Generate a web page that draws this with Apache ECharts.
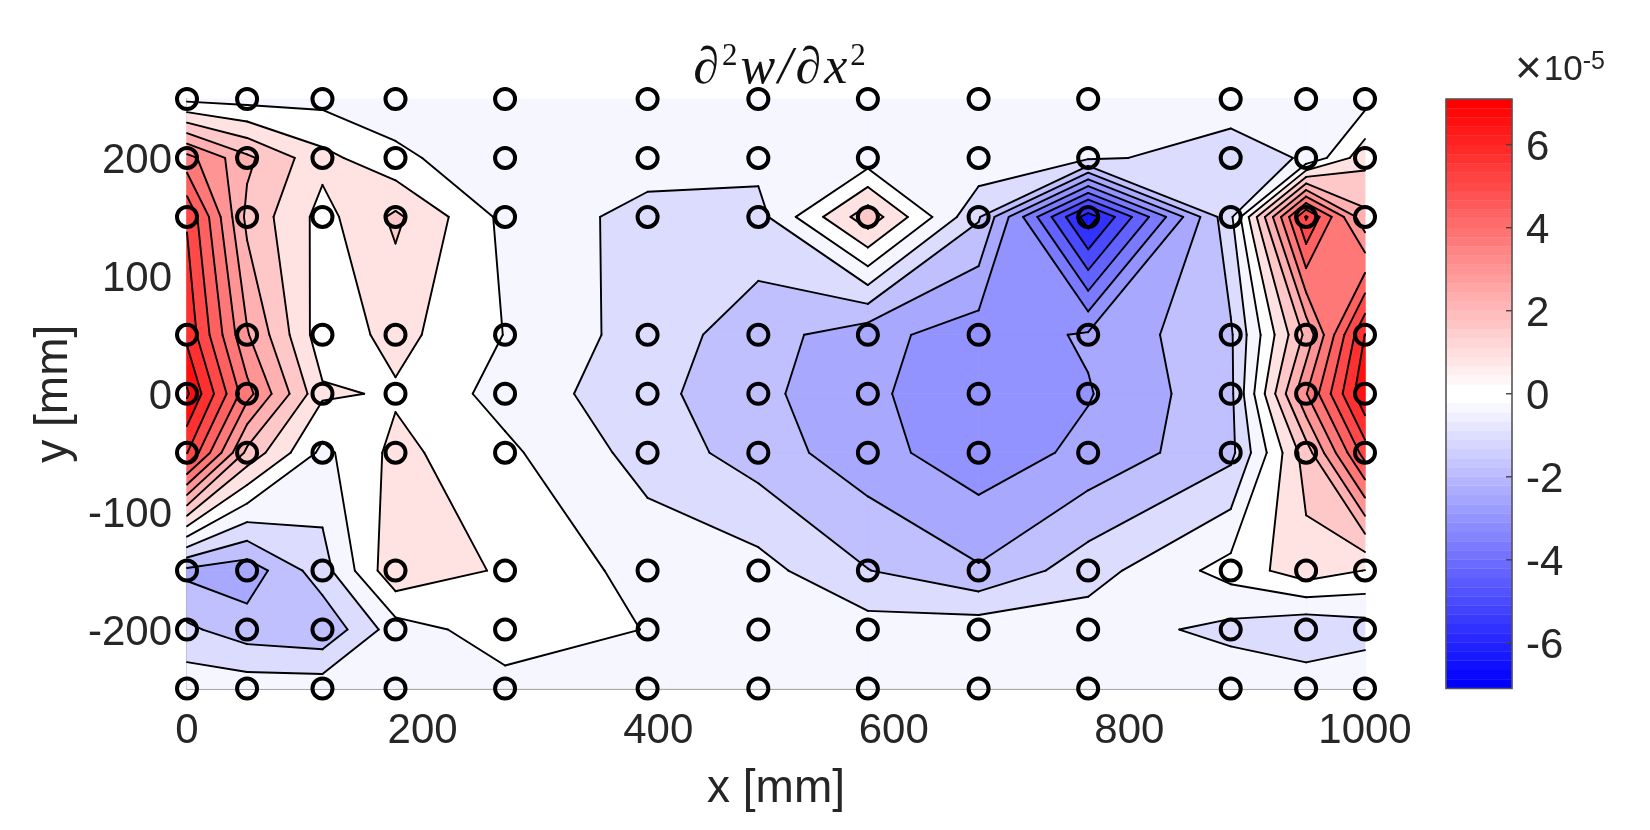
<!DOCTYPE html>
<html>
<head>
<meta charset="utf-8">
<title>d2w/dx2</title>
<script src="https://cdn.jsdelivr.net/npm/echarts@6/dist/echarts.min.js"></script>
<style>
  html, body { margin: 0; padding: 0; background: #fff; }
  #chart { width: 1650px; height: 830px; }
</style>
</head>
<body>
<div id="chart"></div>
<script>
// measurement points
const xs = [0, 51, 115, 177, 270, 391, 485, 578, 672, 765, 886, 950, 1000];
const ys = [250, 200, 150, 50, 0, -50, -150, -200, -250];

// d2w/dx2 in units of 1e-5, one row per y
const rowY250 = [-0.49, -0.57, -0.52, -0.78, -0.5, -0.4, -0.4, -0.4, -0.4, -0.5, -0.69, -0.5, -0.59];
const rowY200 = [3.5, 1.97, 0.61, -0.12, -0.9, -0.67, -0.78, -0.72, -0.44, -0.89, -1.35, -0.95, 0.87];
const rowY150 = [5.29, 1.63, 0.15, 1.25, -0.5, -1.28, -1.28, 1.56, -1.65, -7.1, -1.18, 5.45, 2.0];
const rowY50 = [5.9, 2.6, -0.04, 0.63, -0.33, -1.35, -2.11, -2.9, -3.54, -3.06, -1.83, 2.0, 6.1];
const rowY0 = [6.9, 3.5, 0.52, 0.31, -0.57, -1.5, -2.26, -2.99, -3.72, -3.2, -1.9, 3.2, 6.7];
const rowYm50 = [5.4, 1.63, -0.5, 0.6, -0.16, -1.3, -2.07, -2.87, -3.59, -2.96, -1.93, 1.46, 5.0];
const rowYm150 = [-2.62, -2.87, -1.32, 0.96, 0.29, -0.57, -0.76, -1.71, -2.36, -1.33, -0.03, 0.8, 0.38];
const rowYm200 = [-1.6, -2.1, -2.3, -0.64, 0.05, -0.33, -0.5, -0.7, -0.58, -0.63, -1.24, -1.65, -1.37];
const rowYm250 = [-0.55, -0.6, -0.6, -0.45, -0.54, -0.35, -0.35, -0.4, -0.4, -0.4, -0.47, -0.52, -0.37];
const zRows = [rowY250, rowY200, rowY150, rowY50, rowY0, rowYm50, rowYm150, rowYm200, rowYm250];

// contour levels
const levels = [-6.7, -5.99, -5.28, -4.57, -3.86, -3.15, -2.44, -1.73, -1.02, -0.31,
  0.4, 1.11, 1.82, 2.53, 3.24, 3.95, 4.66, 5.37, 6.08, 6.79];
const bandColors = ['#1a1aff', '#3232ff', '#4a4aff', '#6262ff', '#7a7aff', '#9393ff', '#a8a8ff', '#c0c0ff', '#dcdcff', '#f5f6ff',
  '#ffffff', '#ffe3e3', '#ffc8c8', '#ffb0b0', '#ff9494', '#ff7878', '#ff6060', '#ff4848', '#ff3030', '#ff1010', '#ff0000'];

const yTicks = [-200, -100, 0, 100, 200];
const barTicks = [-6, -4, -2, 0, 2, 4, 6];
const barLimit = 7.1;
const barSteps = 64;

// one entry per grid cell, and one per cell and level so the levels paint in order
const cells = [];
const fillCells = [];
for (let j = 0; j < ys.length - 1; j++) {
  for (let i = 0; i < xs.length - 1; i++) cells.push([i, j]);
}
for (let n = -1; n < levels.length; n++) {
  cells.forEach(c => fillCells.push([c[0], c[1], n]));
}
const circles = [];
ys.forEach(y => xs.forEach(x => circles.push([x, y])));
const barCells = [];
for (let k = 0; k < barSteps; k++) barCells.push([k]);

function barColor(k) {
  const t = k < barSteps / 2 ? k / (barSteps / 2 - 1) : (barSteps - 1 - k) / (barSteps / 2 - 1);
  const c = Math.round(255 * t);
  return k < barSteps / 2 ? `rgb(${c},${c},255)` : `rgb(255,${c},${c})`;
}

function cellCorners(i, j) {
  return [
    { x: xs[i], y: ys[j], z: zRows[j][i] },
    { x: xs[i + 1], y: ys[j], z: zRows[j][i + 1] },
    { x: xs[i + 1], y: ys[j + 1], z: zRows[j + 1][i + 1] },
    { x: xs[i], y: ys[j + 1], z: zRows[j + 1][i] }
  ];
}

function crossing(a, b, level) {
  const t = (level - a.z) / (b.z - a.z);
  return { x: a.x + t * (b.x - a.x), y: a.y + t * (b.y - a.y), z: level };
}

// parts of a cell at or above a level; a saddle below the cell mean splits in two
function regionsAbove(c, level) {
  const above = c.map(p => p.z >= level);
  const mid = (c[0].z + c[1].z + c[2].z + c[3].z) / 4;
  if (above[0] === above[2] && above[1] === above[3] && above[0] !== above[1] && mid < level) {
    return [0, 1, 2, 3].filter(n => above[n]).map(n => {
      const prev = c[(n + 3) % 4], next = c[(n + 1) % 4];
      return [c[n], crossing(c[n], next, level), crossing(c[n], prev, level)];
    });
  }
  const out = [];
  c.forEach((p, n) => {
    const q = c[(n + 1) % 4];
    if (p.z >= level) out.push(p);
    if ((p.z >= level) !== (q.z >= level)) out.push(crossing(p, q, level));
  });
  return out.length ? [out] : [];
}

// each level paints over the one below it
function renderFill(params, api) {
  const corners = cellCorners(api.value(0), api.value(1));
  const n = api.value(2);
  // nothing of this band shows if the next level covers the whole cell
  if (n + 1 < levels.length && corners.every(p => p.z >= levels[n + 1])) return null;
  const color = bandColors[n + 1];
  const polys = n < 0 ? [corners] : regionsAbove(corners, levels[n]);
  return {
    type: 'group',
    children: polys.map(poly => ({
      type: 'polygon',
      z2: n + 2,
      shape: { points: poly.map(p => api.coord([p.x, p.y])) },
      style: { fill: color, stroke: color, lineWidth: 0.7 }
    }))
  };
}

function renderLines(params, api) {
  const c = cellCorners(api.value(0), api.value(1));
  const children = [];
  levels.forEach(level => {
    const pts = [];
    for (let e = 0; e < 4; e++) {
      const a = c[e], b = c[(e + 1) % 4];
      if ((a.z < level) !== (b.z < level)) pts.push(crossing(a, b, level));
    }
    const pairs = [];
    if (pts.length === 2) pairs.push([pts[0], pts[1]]);
    if (pts.length === 4) {
      const mid = (c[0].z + c[1].z + c[2].z + c[3].z) / 4;
      if ((mid < level) === (c[0].z < level)) pairs.push([pts[0], pts[1]], [pts[2], pts[3]]);
      else pairs.push([pts[3], pts[0]], [pts[1], pts[2]]);
    }
    pairs.forEach(pair => {
      const p1 = api.coord([pair[0].x, pair[0].y]);
      const p2 = api.coord([pair[1].x, pair[1].y]);
      children.push({
        type: 'line',
        shape: { x1: p1[0], y1: p1[1], x2: p2[0], y2: p2[1] },
        style: { stroke: '#000', lineWidth: 1.9, lineCap: 'round' }
      });
    });
  });
  return { type: 'group', children };
}

function renderBarCell(params, api) {
  const k = api.value(0);
  const step = 2 * barLimit / barSteps;
  const p1 = api.coord([0, -barLimit + k * step]);
  const p2 = api.coord([1, -barLimit + (k + 1) * step]);
  return {
    type: 'rect',
    shape: { x: p1[0], y: p2[1], width: p2[0] - p1[0], height: p1[1] - p2[1] },
    style: { fill: barColor(k), stroke: barColor(k), lineWidth: 0.4 }
  };
}

function renderBarFrame(params) {
  const r = params.coordSys;
  return {
    type: 'rect',
    shape: { x: r.x, y: r.y, width: r.width, height: r.height },
    style: { fill: 'none', stroke: '#555', lineWidth: 1.6 }
  };
}

const font = 'Liberation Sans';
const serif = 'Liberation Serif';
const ink = '#262626';
const plain = v => String(v);
// tick labels on the y axes sit a little below their tick
const lowered = v => `{t|${v}}`;
const loweredRich = { t: { fontFamily: font, fontSize: 42, color: ink, padding: [7, 0, 0, 0] } };

const chart = echarts.init(document.getElementById('chart'));
chart.setOption({
  animation: false,
  backgroundColor: '#fff',
  title: [
    {
      text: '{m|∂}{s|2}{m|w}{m|/}{m|∂}{m|x}{s|2}',
      left: 776,
      top: 36,
      textAlign: 'center',
      textStyle: {
        fontWeight: 'normal',
        rich: {
          m: { fontFamily: serif, fontStyle: 'italic', fontWeight: 'normal', fontSize: 52, lineHeight: 56, color: '#111', padding: [0, 3, 0, 0] },
          s: { fontFamily: serif, fontWeight: 'normal', fontSize: 31, lineHeight: 56, color: '#111', verticalAlign: 'top', padding: [0, 3, 0, 0] }
        }
      }
    },
    {
      text: '{x|×}{b|10}{e|-5}',
      left: 1510,
      top: 45,
      textAlign: 'left',
      textStyle: {
        fontWeight: 'normal',
        rich: {
          x: { fontFamily: font, fontWeight: 'normal', fontSize: 46, lineHeight: 40, color: ink, padding: [0, 2, 0, 0] },
          b: { fontFamily: font, fontWeight: 'normal', fontSize: 35, lineHeight: 40, color: ink },
          e: { fontFamily: font, fontWeight: 'normal', fontSize: 25, lineHeight: 40, color: ink, verticalAlign: 'top' }
        }
      }
    }
  ],
  grid: [
    { left: 187, top: 99, width: 1178, height: 589.5 },
    { left: 1446, top: 99, width: 66, height: 589.5 }
  ],
  xAxis: [
    {
      gridIndex: 0, type: 'value', min: 0, max: 1000, interval: 200,
      name: 'x [mm]', nameLocation: 'middle', nameGap: 78,
      nameTextStyle: { fontFamily: font, fontSize: 46, color: ink },
      axisLine: { show: true, onZero: false, lineStyle: { color: '#8c8c8c', width: 1.5 } },
      axisTick: { show: false },
      axisLabel: { fontFamily: font, fontSize: 42, color: ink, margin: 22, formatter: plain },
      splitLine: { show: false }
    },
    {
      gridIndex: 1, type: 'value', min: 0, max: 1,
      axisLine: { show: false }, axisTick: { show: false }, axisLabel: { show: false }, splitLine: { show: false }
    }
  ],
  yAxis: [
    {
      gridIndex: 0, type: 'value', min: -250, max: 250,
      name: 'y [mm]', nameLocation: 'middle', nameGap: 108,
      nameTextStyle: { fontFamily: font, fontSize: 46, color: ink },
      axisLine: { show: true, onZero: false, lineStyle: { color: '#8c8c8c', width: 1.5 } },
      axisTick: { show: false },
      axisLabel: { margin: 15, customValues: yTicks, formatter: lowered, rich: loweredRich },
      splitLine: { show: false }
    },
    {
      gridIndex: 1, type: 'value', min: -barLimit, max: barLimit, position: 'right',
      axisLine: { show: false },
      axisTick: { show: false },
      axisLabel: { margin: 14, customValues: barTicks, formatter: lowered, rich: loweredRich },
      splitLine: { show: false }
    }
  ],
  series: [
    {
      type: 'custom', name: 'fill', xAxisIndex: 0, yAxisIndex: 0, z: 2, silent: true,
      coordinateSystem: 'cartesian2d', renderItem: renderFill, data: fillCells
    },
    {
      type: 'custom', name: 'contours', xAxisIndex: 0, yAxisIndex: 0, z: 3, silent: true,
      coordinateSystem: 'cartesian2d', renderItem: renderLines, data: cells
    },
    {
      type: 'scatter', name: 'points', xAxisIndex: 0, yAxisIndex: 0, z: 4, silent: true, clip: false,
      symbol: 'circle', symbolSize: 20,
      itemStyle: { color: 'rgba(0,0,0,0)', borderColor: '#000', borderWidth: 4, opacity: 1 },
      data: circles
    },
    {
      type: 'custom', name: 'colorbar', xAxisIndex: 1, yAxisIndex: 1, z: 2, silent: true,
      coordinateSystem: 'cartesian2d', renderItem: renderBarCell, data: barCells
    },
    {
      type: 'custom', name: 'colorbar frame', xAxisIndex: 1, yAxisIndex: 1, z: 3, silent: true,
      coordinateSystem: 'cartesian2d', renderItem: renderBarFrame, data: [[0]]
    },
    {
      type: 'custom', name: 'colorbar ticks', xAxisIndex: 1, yAxisIndex: 1, z: 3, silent: true,
      coordinateSystem: 'cartesian2d',
      renderItem: function (params, api) {
        const p = api.coord([1, api.value(0)]);
        return { type: 'line', shape: { x1: p[0] - 6, y1: p[1], x2: p[0], y2: p[1] }, style: { stroke: '#444', lineWidth: 1.4 } };
      },
      data: barTicks.map(v => [v])
    }
  ]
});
</script>
</body>
</html>
